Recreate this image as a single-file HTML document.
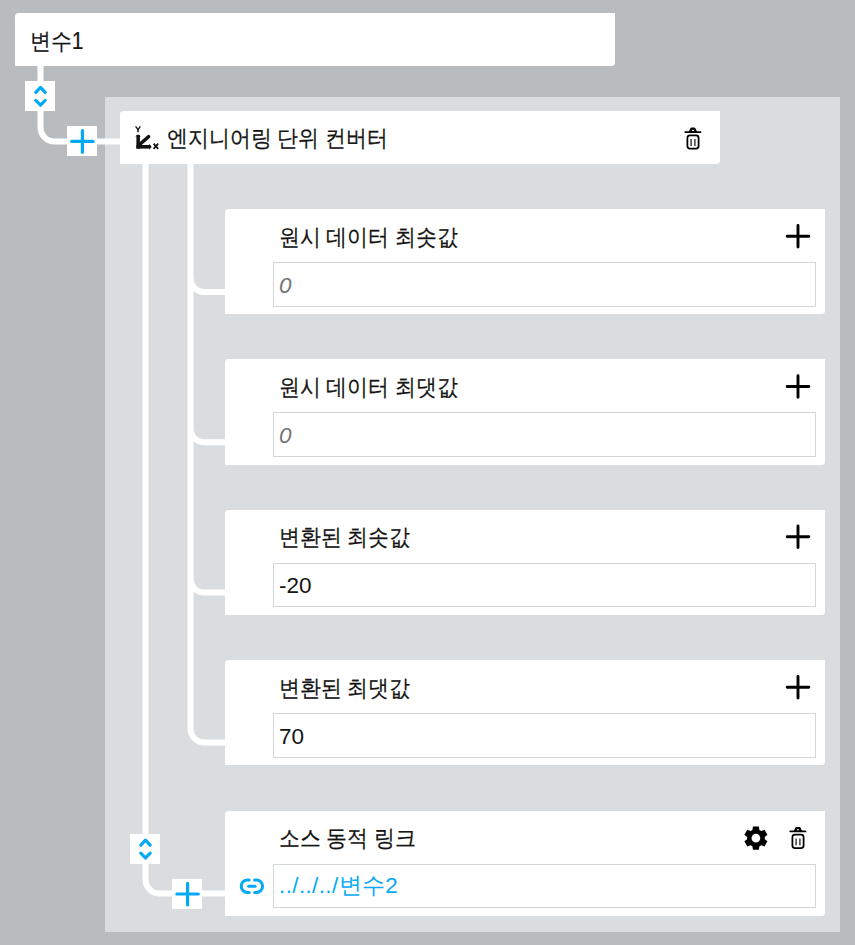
<!DOCTYPE html>
<html lang="ko">
<head>
<meta charset="utf-8">
<style>
html,body{margin:0;padding:0;}
body{width:855px;height:945px;overflow:hidden;background:#b9bcbf;position:relative;font-family:"Liberation Sans",sans-serif;color:#141414;}
.card{position:absolute;background:#fff;border-radius:3.5px 0 3.5px 0;}
.panel{position:absolute;left:105px;top:96.5px;width:735px;height:835px;background:#dadde0;}
.t{position:absolute;-webkit-text-stroke:0.2px #141414;font-size:21px;line-height:24px;white-space:nowrap;transform-origin:0 0;transform:scaleY(1.1);}
.inp{position:absolute;left:48.3px;width:541px;height:42.5px;border:1px solid #d2d7db;background:#fff;}
.inp span{position:absolute;left:4.8px;top:10.5px;font-size:22.5px;line-height:24px;white-space:nowrap;}
.box{position:absolute;width:30px;height:30px;background:#fff;}
svg{position:absolute;left:0;top:0;overflow:visible;}
</style>
</head>
<body>
<div class="card" style="left:15px;top:13px;width:600px;height:53px;">
  <div class="t" style="left:14.7px;top:15px;">변수1</div>
</div>

<div class="panel"></div>

<svg width="855" height="945">
  <g fill="none" stroke="#fff" stroke-width="6">
    <path d="M40.5 66 V127.5 A14 14 0 0 0 54.5 141.5 H121"/>
    <path d="M145.5 164 V879 A14 14 0 0 0 159.5 893.5 H226"/>
    <path d="M190.5 164 V728.5 A14 14 0 0 0 204.5 742.5 H226"/>
    <path d="M190.5 278 A14 14 0 0 0 204.5 292 H226"/>
    <path d="M190.5 428.3 A14 14 0 0 0 204.5 442.3 H226"/>
    <path d="M190.5 578.6 A14 14 0 0 0 204.5 592.6 H226"/>
  </g>
</svg>

<div class="card" style="left:120px;top:111px;width:600px;height:53px;">
  <div class="t" style="left:46.6px;top:14px;">엔지니어링 단위 컨버터</div>
</div>

<div class="card" style="left:225px;top:209px;width:600px;height:105.4px;">
  <div class="t" style="left:53.6px;top:14.5px;">원시 데이터 최솟값</div>
  <div class="inp" style="top:53px;"><span style="font-style:italic;color:#757575;">0</span></div>
</div>
<div class="card" style="left:225px;top:359.3px;width:600px;height:105.4px;">
  <div class="t" style="left:53.6px;top:14.5px;">원시 데이터 최댓값</div>
  <div class="inp" style="top:53px;"><span style="font-style:italic;color:#757575;">0</span></div>
</div>
<div class="card" style="left:225px;top:509.6px;width:600px;height:105.4px;">
  <div class="t" style="left:53.6px;top:14.5px;">변환된 최솟값</div>
  <div class="inp" style="top:53px;"><span>-20</span></div>
</div>
<div class="card" style="left:225px;top:660px;width:600px;height:105.4px;">
  <div class="t" style="left:53.6px;top:14.5px;">변환된 최댓값</div>
  <div class="inp" style="top:53px;"><span>70</span></div>
</div>
<div class="card" style="left:225px;top:810.5px;width:600px;height:105.5px;">
  <div class="t" style="left:53.6px;top:14.5px;">소스 동적 링크</div>
  <div class="inp" style="top:53px;"><span style="color:#03a9f4;letter-spacing:0.35px;top:9.5px;">../../../변수2</span></div>
</div>

<div class="box" style="left:25.3px;top:81.2px;"></div>
<div class="box" style="left:67.2px;top:126.2px;"></div>
<div class="box" style="left:130.3px;top:834px;"></div>
<div class="box" style="left:172.4px;top:878.8px;"></div>

<svg width="855" height="945">
  <!-- chevrons -->
  <g fill="none" stroke="#03a9f4" stroke-width="3.2" stroke-linecap="round" stroke-linejoin="round">
    <path d="M35.8 92.4 L40.5 87.4 L45.2 92.4 M35.8 100.4 L40.5 105.2 L45.2 100.4"/>
    <path d="M140.8 845.2 L145.5 840.2 L150.2 845.2 M140.8 853.2 L145.5 858 L150.2 853.2"/>
  </g>
  <!-- blue plus -->
  <g fill="none" stroke="#03a9f4" stroke-width="3.2" stroke-linecap="round">
    <path d="M71.7 141.4 H93.1 M82.4 130.7 V152.3"/>
    <path d="M176.9 894 H198.3 M187.6 883.3 V904.9"/>
  </g>
  <!-- link icon -->
  <g fill="none" stroke="#03a9f4" stroke-width="3" stroke-linecap="round">
    <path d="M249.2 879.9 H247.45 A6.25 6.25 0 0 0 247.45 892.4 H249.2"/>
    <path d="M254.6 879.9 H256.35 A6.25 6.25 0 0 1 256.35 892.4 H254.6"/>
    <path d="M248.7 886.2 H255.1"/>
  </g>
  <!-- black plus icons -->
  <g fill="none" stroke="#000" stroke-width="2.9" stroke-linecap="round">
    <path d="M787.2 236.2 H808.8 M798 225.4 V247"/>
    <path d="M787.2 386.5 H808.8 M798 375.7 V397.3"/>
    <path d="M787.2 536.8 H808.8 M798 526 V547.6"/>
    <path d="M787.2 687.2 H808.8 M798 676.4 V698"/>
  </g>
  <!-- axis icon -->
  <g transform="translate(130 122)" fill="#111">
    <path d="M5.6 4.4 L8 7.6 L10.4 4.4" fill="none" stroke="#111" stroke-width="1.3"/>
    <path d="M8 7.4 V10.3" fill="none" stroke="#111" stroke-width="1.4"/>
    <rect x="6.4" y="13.2" width="3.5" height="13.4"/>
    <path d="M5.3 14.6 L8.15 12.4 L11 14.6 Z"/>
    <rect x="6.4" y="23" width="13.6" height="3.6"/>
    <path d="M19.3 21.8 L21.6 24.8 L19.3 27.8 Z"/>
    <path d="M8.8 23.2 L18.6 14.6" fill="none" stroke="#111" stroke-width="3.4" stroke-linecap="round"/>
    <path d="M23.6 21.6 L28.2 26.9 M28.2 21.6 L23.6 26.9" fill="none" stroke="#111" stroke-width="1.7"/>
  </g>
  <!-- gear -->
  <path fill="#000" fill-rule="evenodd" d="M759.40 829.92 L758.85 826.47 L752.95 826.47 L752.40 829.92 A8.90 8.90 0 0 0 750.56 830.98 L747.30 829.73 L744.35 834.84 L747.06 837.04 A8.90 8.90 0 0 0 747.06 839.16 L744.35 841.36 L747.30 846.47 L750.56 845.22 A8.90 8.90 0 0 0 752.40 846.28 L752.95 849.73 L758.85 849.73 L759.40 846.28 A8.90 8.90 0 0 0 761.24 845.22 L764.50 846.47 L767.45 841.36 L764.74 839.16 A8.90 8.90 0 0 0 764.74 837.04 L767.45 834.84 L764.50 829.73 L761.24 830.98 A8.90 8.90 0 0 0 759.40 829.92 Z M760.30 838.10 A4.40 4.40 0 1 0 751.50 838.10 A4.40 4.40 0 1 0 760.30 838.10 Z"/>
  <!-- trash icons -->
  <g id="tr" fill="none" stroke="#000" stroke-width="1.8">
    <path d="M790.3 831.4 H805.5" stroke-width="1.8" stroke-linecap="round"/>
    <path d="M793.4 831.5 L795.4 827.5 Q795.8 826.9 796.5 826.9 H799.3 Q800 826.9 800.4 827.5 L802.4 831.5 Z M796.9 829.2 V830.4 H798.9 V829.2 Z" fill="#000" stroke="none" fill-rule="evenodd"/>
    <rect x="792.4" y="834.7" width="11.2" height="13.3" rx="2.6" stroke-width="1.75"/>
    <path d="M796.1 838.4 V845.2 M799.9 838.4 V845.2" stroke-width="1.3" stroke="#222"/>
  </g>
  <g transform="translate(-105 -699.3)" fill="none" stroke="#000" stroke-width="1.8">
    <path d="M790.3 831.4 H805.5" stroke-width="1.8" stroke-linecap="round"/>
    <path d="M793.4 831.5 L795.4 827.5 Q795.8 826.9 796.5 826.9 H799.3 Q800 826.9 800.4 827.5 L802.4 831.5 Z M796.9 829.2 V830.4 H798.9 V829.2 Z" fill="#000" stroke="none" fill-rule="evenodd"/>
    <rect x="792.4" y="834.7" width="11.2" height="13.3" rx="2.6" stroke-width="1.75"/>
    <path d="M796.1 838.4 V845.2 M799.9 838.4 V845.2" stroke-width="1.3" stroke="#222"/>
  </g>
</svg>
</body>
</html>
